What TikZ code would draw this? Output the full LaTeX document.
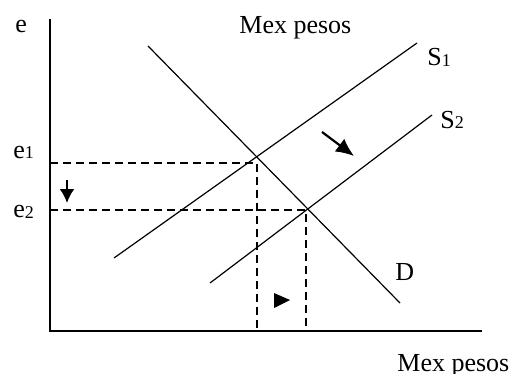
\documentclass[tikz,border=0pt]{standalone}
\usepackage{fontspec}
\setmainfont{Liberation Serif}
\usetikzlibrary{arrows.meta, positioning, calc}
\newcommand{\lowsub}[1]{\raisebox{-0.5pt}{\fontsize{9}{10}\selectfont #1}}

\begin{document}
\begin{tikzpicture}[x=0.5pt, y=-0.5pt, font=\fontsize{13}{15}\selectfont]
    \useasboundingbox (0,0) rectangle (514,374);

    % Axes
    \coordinate (O) at (50,331);
    \coordinate (ytop) at (50,19);
    \coordinate (xend) at (482,331);
    \draw[line width=0.8pt] (ytop) -- (O) -- (xend);

    % Supply and demand curves
    \coordinate (s1a) at (114,258);
    \coordinate (s1b) at (417,43);
    \coordinate (s2a) at (210,283);
    \coordinate (s2b) at (432,115);
    \coordinate (da) at (148,46);
    \coordinate (db) at (400,303);
    \draw[line width=0.6pt] (s1a) -- (s1b);
    \draw[line width=0.6pt] (s2a) -- (s2b);
    \draw[line width=0.6pt] (da) -- (db);

    % Equilibrium guides
    \coordinate (e1y) at (50,163);
    \coordinate (eq1) at (257,163);
    \coordinate (q1) at (257,331);
    \coordinate (e2y) at (50,210);
    \coordinate (eq2) at (306,210);
    \coordinate (q2) at (306,331);
    \draw[line width=0.6pt, dash pattern=on 4pt off 2.5pt] (e1y) -- (eq1) -- (q1);
    \draw[line width=0.6pt, dash pattern=on 4pt off 2.5pt] (e2y) -- (eq2) -- (q2);

    % Labels
    \node[anchor=base west, inner sep=0pt] (elab) at (15,33) {e};
    \node[anchor=base west, inner sep=0pt] (toplab) at (239,34) {Mex pesos};
    \node[anchor=base west, inner sep=0pt] (botlab) at (397,371) {Mex pesos};
    \node[anchor=base west, inner sep=0pt] (e1lab) at (13,158) {e\lowsub{1}};
    \node[anchor=base west, inner sep=0pt] (e2lab) at (13,217) {e\lowsub{2}};
    \node[anchor=base west, inner sep=0pt] (s1lab) at (427,66) {S\lowsub{1}};
    \node[anchor=base west, inner sep=0pt] (s2lab) at (440,128) {S\lowsub{2}};
    \node[anchor=base west, inner sep=0pt] (dlab) at (395,280) {D};

    % Shift arrows
    \coordinate (downa) at (67,180);
    \coordinate (downb) at (67,203);
    \draw[-{Latex[length=7pt, width=7.5pt]}, line width=1.1pt] (downa) -- (downb);
    \coordinate (diaga) at (322,132);
    \coordinate (diagb) at (354,156);
    \draw[-{Latex[length=9pt, width=8pt]}, line width=1.1pt] (diaga) -- (diagb);
    \fill (274,293) -- (290,300) -- (274,308) -- cycle;
\end{tikzpicture}
\end{document}
